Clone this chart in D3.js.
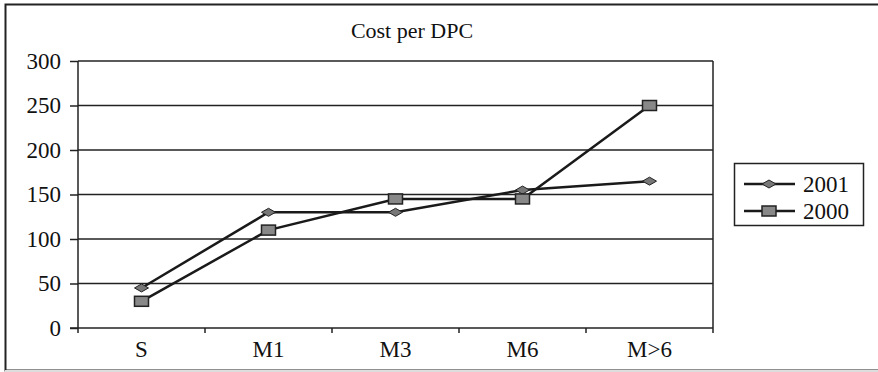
<!DOCTYPE html>
<html><head><meta charset="utf-8">
<script src="https://cdn.jsdelivr.net/npm/d3@7"></script>
<style>body{margin:0;background:#fff}svg{display:block}</style>
</head><body><svg id="c" width="878" height="372"></svg>
<script>
const categories = ["S","M1","M3","M6","M>6"];
const series2001 = [45,130,130,155,165];
const series2000 = [30,110,145,145,250];
const yTicks = [0,50,100,150,200,250,300];
const seriesNames = ["2001","2000"];

const FONT = "'Liberation Serif','Times New Roman',Times,'DejaVu Serif',serif";
const svg = d3.select("#c");
const W=878,H=372;
const m={l:78,r:713,t:61,b:328};
svg.append("rect").attr("x",5.5).attr("y",4.5).attr("width",W+10).attr("height",366).attr("fill","#fff").attr("stroke","#222").attr("stroke-width",2);
svg.append("line").attr("x1",5).attr("x2",W).attr("y1",371).attr("y2",371).attr("stroke","#ddd").attr("stroke-width",2);

const x=d3.scaleBand().domain(categories).range([m.l,m.r]);
const y=d3.scaleLinear().domain([0,300]).range([m.b,m.t]);

svg.append("g").selectAll("line").data(yTicks.filter(d=>d>0)).join("line")
 .attr("x1",m.l).attr("x2",m.r).attr("y1",d=>y(d)).attr("y2",d=>y(d)).attr("stroke","#222").attr("stroke-width",1.5);
svg.append("line").attr("x1",m.r).attr("x2",m.r).attr("y1",m.t).attr("y2",m.b).attr("stroke","#222").attr("stroke-width",1.5);

const ya=svg.append("g").attr("transform",`translate(${m.l},0)`).call(d3.axisLeft(y).tickValues(yTicks).tickSize(8).tickPadding(9));
ya.attr("font-family",FONT).attr("font-size",23);
ya.select(".domain").attr("stroke","#222").attr("stroke-width",1.5).attr("d",`M0,${m.t}V${m.b}`);
ya.selectAll(".tick line").attr("stroke","#222").attr("stroke-width",1.5);
ya.selectAll("text").attr("fill","#111").attr("font-family",FONT).attr("font-size",23);

const xa=svg.append("g").attr("transform",`translate(0,${m.b})`).call(d3.axisBottom(x).tickSize(0).tickPadding(13));
xa.attr("font-family",FONT).attr("font-size",23);
xa.select(".domain").attr("stroke","#222").attr("stroke-width",1.5).attr("d",`M${m.l-8},0H${m.r}`);
xa.selectAll("text").attr("fill","#111").attr("font-family",FONT).attr("font-size",23);
svg.append("g").selectAll("line").data(d3.range(categories.length+1)).join("line")
 .attr("x1",i=>m.l+i*x.step()).attr("x2",i=>m.l+i*x.step()).attr("y1",m.b).attr("y2",m.b+5).attr("stroke","#222").attr("stroke-width",1.5);

svg.append("text").attr("x",412).attr("y",38).attr("text-anchor","middle").attr("font-family",FONT).attr("font-size",22).attr("fill","#111").text("Cost per DPC");

const cx=d=>x(d)+x.bandwidth()/2;
const line=d3.line().x(d=>cx(d[0])).y(d=>y(d[1]));
const d01=categories.map((c,i)=>[c,series2001[i]]);
const d00=categories.map((c,i)=>[c,series2000[i]]);
svg.append("path").attr("d",line(d01)).attr("fill","none").attr("stroke","#1a1a1a").attr("stroke-width",2.5);
svg.append("path").attr("d",line(d00)).attr("fill","none").attr("stroke","#1a1a1a").attr("stroke-width",2.5);

function diamond(g,px,py){g.append("path").attr("d",`M${px-7},${py}L${px},${py-4}L${px+7},${py}L${px},${py+4}Z`).attr("fill","#777").attr("stroke","#222").attr("stroke-width",1);}
function square(g,px,py){g.append("rect").attr("x",px-7).attr("y",py-5).attr("width",14).attr("height",10).attr("fill","#888").attr("stroke","#222").attr("stroke-width",1.5);}
const mk=svg.append("g");
d01.forEach(d=>diamond(mk,cx(d[0]),y(d[1])));
d00.forEach(d=>square(mk,cx(d[0]),y(d[1])));

const lg=svg.append("g");
lg.append("rect").attr("x",734.5).attr("y",163.5).attr("width",129).attr("height",62).attr("fill","#fff").attr("stroke","#222").attr("stroke-width",1.5);
const rows=[184,211];
seriesNames.forEach((n,i)=>{
  lg.append("line").attr("x1",744).attr("x2",795).attr("y1",rows[i]).attr("y2",rows[i]).attr("stroke","#1a1a1a").attr("stroke-width",2.5);
  if(i===0) diamond(lg,769,rows[i]); else square(lg,769,rows[i]);
  lg.append("text").attr("x",803).attr("y",rows[i]+8).attr("font-family",FONT).attr("font-size",23).attr("fill","#111").text(n);
});
</script></body></html>
